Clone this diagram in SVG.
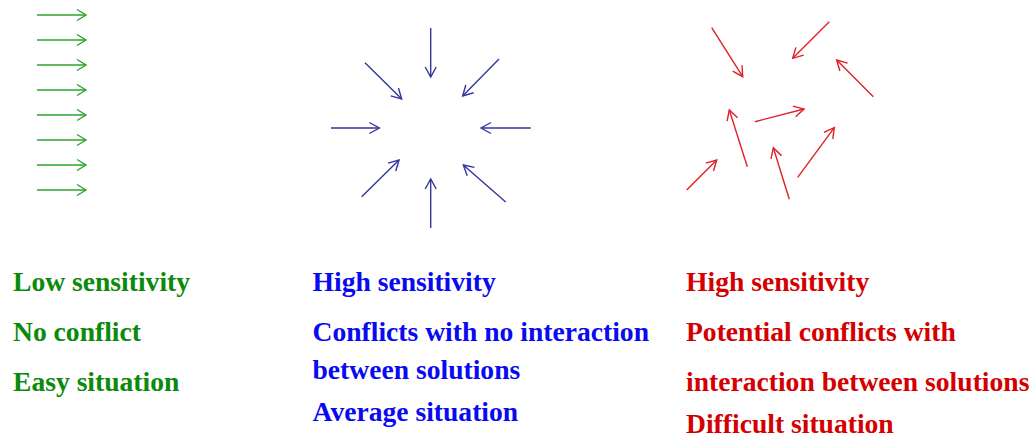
<svg xmlns="http://www.w3.org/2000/svg" width="1036" height="437" viewBox="0 0 1036 437">
<defs>
<style>
.t{font-family:"Liberation Serif","Times New Roman",serif;font-weight:bold;font-size:27.6px}
.g{fill:#0b8a0b}.b{fill:#0a0af0}.r{fill:#d40000}
.ag{stroke:#2ea32e;stroke-width:1.4;fill:none}
.ab{stroke:#35359e;stroke-width:1.4;fill:none}
.ar{stroke:#df2027;stroke-width:1.4;fill:none}
</style>
<marker id="mg" markerUnits="userSpaceOnUse" orient="auto" markerWidth="20" markerHeight="20" refX="0" refY="0" overflow="visible"><path d="M-9,-5.5 L0,0 L-9,5.5" fill="none" stroke="#2ea32e" stroke-width="1.4"/></marker>
<marker id="mb" markerUnits="userSpaceOnUse" orient="auto" markerWidth="20" markerHeight="20" refX="0" refY="0" overflow="visible"><path d="M-10,-5.5 L0,0 L-10,5.5" fill="none" stroke="#35359e" stroke-width="1.4"/></marker>
<marker id="mr" markerUnits="userSpaceOnUse" orient="auto" markerWidth="20" markerHeight="20" refX="0" refY="0" overflow="visible"><path d="M-10,-5.5 L0,0 L-10,5.5" fill="none" stroke="#df2027" stroke-width="1.4"/></marker>
</defs>
<rect width="1036" height="437" fill="#ffffff"/>
<g id="connectors">
<g id="green-arrows" class="ag" marker-end="url(#mg)">
<line x1="37" y1="15" x2="86" y2="15" marker-end="url(#mg)"/>
<line x1="37" y1="40" x2="86" y2="40" marker-end="url(#mg)"/>
<line x1="37" y1="65" x2="86" y2="65" marker-end="url(#mg)"/>
<line x1="37" y1="90" x2="86" y2="90" marker-end="url(#mg)"/>
<line x1="37" y1="115" x2="86" y2="115" marker-end="url(#mg)"/>
<line x1="37" y1="140" x2="86" y2="140" marker-end="url(#mg)"/>
<line x1="37" y1="165" x2="86" y2="165" marker-end="url(#mg)"/>
<line x1="37" y1="190" x2="86" y2="190" marker-end="url(#mg)"/>
</g>
<g id="blue-arrows" class="ab">
<line x1="430.7" y1="28" x2="430.7" y2="77" marker-end="url(#mb)"/>
<line x1="365" y1="62.7" x2="401.7" y2="99" marker-end="url(#mb)"/>
<line x1="499" y1="59" x2="462.7" y2="96" marker-end="url(#mb)"/>
<line x1="331" y1="128" x2="379.3" y2="128" marker-end="url(#mb)"/>
<line x1="530.7" y1="128" x2="481" y2="128" marker-end="url(#mb)"/>
<line x1="361.7" y1="196.7" x2="399" y2="160" marker-end="url(#mb)"/>
<line x1="430.7" y1="228" x2="430.7" y2="179" marker-end="url(#mb)"/>
<line x1="505.7" y1="202" x2="463.3" y2="165" marker-end="url(#mb)"/>
</g>
<g id="red-arrows" class="ar">
<line x1="711.7" y1="27.7" x2="742.7" y2="76.7" marker-end="url(#mr)"/>
<line x1="829.3" y1="21.7" x2="792.7" y2="58.3" marker-end="url(#mr)"/>
<line x1="873.3" y1="96.7" x2="836.7" y2="60" marker-end="url(#mr)"/>
<line x1="755" y1="121.7" x2="804" y2="109" marker-end="url(#mr)"/>
<line x1="747.3" y1="166.7" x2="729.3" y2="110" marker-end="url(#mr)"/>
<line x1="686.7" y1="190" x2="716.7" y2="160" marker-end="url(#mr)"/>
<line x1="789.3" y1="199.3" x2="773.3" y2="147.7" marker-end="url(#mr)"/>
<line x1="797.7" y1="177.3" x2="834.3" y2="127.7" marker-end="url(#mr)"/>
</g>
</g>
<g id="label-low" class="t g">
<text x="13" y="291">Low sensitivity</text>
<text x="13" y="341">No conflict</text>
<text x="13" y="391">Easy situation</text>
</g>
<g id="label-average" class="t b">
<text x="312.5" y="290.5">High sensitivity</text>
<text x="312.5" y="340.5">Conflicts with no interaction</text>
<text x="312.5" y="378.5">between solutions</text>
<text x="312.5" y="421">Average situation</text>
</g>
<g id="label-difficult" class="t r">
<text x="686" y="290.5">High sensitivity</text>
<text x="686" y="340.5">Potential conflicts with</text>
<text x="686" y="390.5">interaction between solutions</text>
<text x="686" y="433">Difficult situation</text>
</g>
</svg>
